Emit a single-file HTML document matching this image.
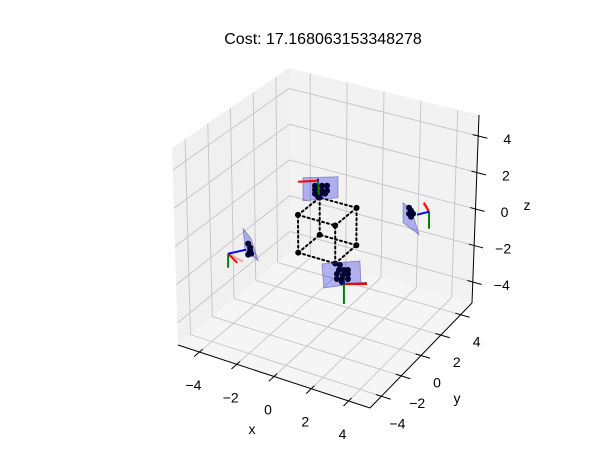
<!DOCTYPE html>
<html><head><meta charset="utf-8"><style>
html,body{margin:0;padding:0;background:#fff;}
svg{display:block;font-family:"Liberation Sans","DejaVu Sans",sans-serif;}
</style></head><body>
<svg id="chart" width="594" height="455" viewBox="0 0 594 455" xmlns="http://www.w3.org/2000/svg">
<rect width="594" height="455" fill="#fff"/>
<text x="323" y="44" font-size="16" text-anchor="middle" fill="#000">Cost: 17.168063153348278</text>
<g id="panes"></g>
<g id="grid"></g>
<g id="axes"></g>
<g id="cube"></g>
<g id="cams"></g>
<text x="252" y="434" font-size="14" text-anchor="middle">x</text>
<text x="457" y="403" font-size="14" text-anchor="middle">y</text>
<text x="527" y="210" font-size="14" text-anchor="middle">z</text>
</svg>
<script>
const xTicks = [-4, -2, 0, 2, 4];
const yTicks = [-4, -2, 0, 2, 4];
const zTicks = [-4, -2, 0, 2, 4];
const cubeX = [-1, 1, 1, -1, -1, 1, 1, -1];
const cubeY = [-1, -1, 1, 1, -1, -1, 1, 1];
const cubeZ = [-1, -1, -1, -1, 1, 1, 1, 1];
const camNames = ['top', 'bottom', 'left', 'right'];
const camX = [-0.5, 0.9, -2.77, 3.3];
const camY = [0, 0, -4.4, 3.9];
const camZ = [2.5, -2.6, 0, 0];

const L = 5.15;
const NS = 'http://www.w3.org/2000/svg';
const CORN = {
 '000':[178,345],'001':[172,148],'100':[370,408],'101':[369,203],
 '110':[472,303],'111':[479,115],'010':[290,252],'011':[289,68]
};
function P(x,y,z){
  const u=(x+L)/(2*L), v=(y+L)/(2*L), w=(z+L)/(2*L);
  let sx=0, sy=0;
  for(const i of [0,1])for(const j of [0,1])for(const k of [0,1]){
    const wt=(i?u:1-u)*(j?v:1-v)*(k?w:1-w);
    const c=CORN[''+i+j+k]; sx+=wt*c[0]; sy+=wt*c[1];
  }
  return [sx,sy];
}
function mk(tag, attrs, parent){
  const e=document.createElementNS(NS,tag);
  for(const k in attrs) e.setAttribute(k, attrs[k]);
  parent.appendChild(e); return e;
}
function line(a,b,stroke,w,parent,name,extra){
  const e=mk('line',Object.assign({x1:a[0],y1:a[1],x2:b[0],y2:b[1],stroke:stroke,'stroke-width':w},extra||{}),parent);
  
  
  return e;
}
function poly(pts,fill,parent,name,extra){
  const e=mk('polygon',Object.assign({points:pts.map(p=>p.join(',')).join(' '),fill:fill},extra||{}),parent);
  
  
  return e;
}
const M=L;
const panes=document.getElementById('panes');
poly([P(-M,-M,-M),P(M,-M,-M),P(M,M,-M),P(-M,M,-M)],'#f5f5f5',panes,'floor-pane');
poly([P(-M,-M,-M),P(-M,M,-M),P(-M,M,M),P(-M,-M,M)],'#f0f0f0',panes,'left-pane');
poly([P(-M,M,-M),P(M,M,-M),P(M,M,M),P(-M,M,M)],'#f2f2f2',panes,'back-pane');

const grid=document.getElementById('grid');
const gc='#c4c4c4', gw=0.9;
xTicks.forEach(t=>{
  line(P(t,-M,-M),P(t,M,-M),gc,gw,grid,'floor-gridline-x');
  line(P(t,M,-M),P(t,M,M),gc,gw,grid,'back-gridline-x');
});
yTicks.forEach(t=>{
  line(P(-M,t,-M),P(M,t,-M),gc,gw,grid,'floor-gridline-y');
  line(P(-M,t,-M),P(-M,t,M),gc,gw,grid,'left-gridline-y');
});
zTicks.forEach(t=>{
  line(P(-M,-M,t),P(-M,M,t),gc,gw,grid,'left-gridline-z');
  line(P(-M,M,t),P(M,M,t),gc,gw,grid,'back-gridline-z');
});

const axes=document.getElementById('axes');
line(P(-M,-M,-M),P(M,-M,-M),'#000',1,axes,'x-axis-line');
line(P(M,-M,-M),P(M,M,-M),'#000',1,axes,'y-axis-line');
line(P(M,M,-M),P(M,M,M),'#000',1,axes,'z-axis-line');
function txt(x,y,s,parent,name){
  const e=mk('text',{x:x,y:y,'font-size':14,'text-anchor':'middle'},parent);
  e.textContent=s;
  
  
}
function lab(t){return t<0?'\u2212'+Math.abs(t):''+t;}
xTicks.forEach(t=>{
  const b=P(t,-M-0.5,-M), c=P(t,-M+0.3,-M);
  line(c,b,'#000',1,axes,'x-tick-mark');
  const p=P(t,-M,-M);
  txt(p[0]-6,p[1]+38,lab(t),axes,'x-tick-label');
});
yTicks.forEach(t=>{
  const b=P(M+0.5,t,-M), c=P(M-0.3,t,-M);
  line(c,b,'#000',1,axes,'y-tick-mark');
  const p=P(M,t,-M);
  txt(p[0]+16,p[1]+32,lab(t),axes,'y-tick-label');
});
zTicks.forEach(t=>{
  const b=P(M+0.5,M,t), c=P(M-0.3,M,t);
  line(c,b,'#000',1,axes,'z-tick-mark');
  const p=P(M,M,t);
  txt(p[0]+29,p[1]+8,lab(t),axes,'z-tick-label');
});

const cube=document.getElementById('cube');
for(let i=0;i<8;i++)for(let j=i+1;j<8;j++){
  const d=(cubeX[i]!==cubeX[j])+(cubeY[i]!==cubeY[j])+(cubeZ[i]!==cubeZ[j]);
  if(d===1){
    line(P(cubeX[i],cubeY[i],cubeZ[i]),P(cubeX[j],cubeY[j],cubeZ[j]),'#000',2,cube,'cube-edge',{'stroke-dasharray':'2 3','stroke-linecap':'round'});
  }
}
for(let i=0;i<8;i++){
  const p=P(cubeX[i],cubeY[i],cubeZ[i]);
  const c=mk('circle',{cx:p[0],cy:p[1],r:3,fill:'#000'},cube);
  
  
}

const GEOM = {
 top:{quad:[[-15,-3],[20,-4],[20,17],[-15,20]],
      dots:[[-3,5],[4,5],[9,5],[-3,9],[4,10],[9,10],[-3,13],[2,13],[7,13],[0,16]],
      red:[-20,1],green:[1,14],blue:[0,-2],ghost:null},
 bottom:{quad:[[-22,-20],[16,-23],[17,-1],[-20,4]],
      dots:[[-4,-19],[-5,-14],[0,-14],[4,-14],[-7,-10],[-1,-9],[4,-10],[-7,-5],[-2,-5],[4,-5],[-2,-2]],
      red:[23,0],green:[0,20],blue:[0,-3],ghost:[20,-1,'#a04060']},
 left:{quad:[[15,-25],[23,-15],[30,7],[17,-3]],
      dots:[[20,-10],[22,-6],[22,-3],[20,1],[23,0]],
      red:[9,9],green:[0,14],blue:[18,-4],ghost:[12,8,'#f4a0a0']},
 right:{quad:[[-26,-9],[-18,-3],[-10,23],[-26,11]],
      dots:[[-20,-4],[-18,-1],[-20,2],[-18,5],[-16,2]],
      red:[-5,-9],green:[0,17],blue:[-12,3],ghost:[-9,-8,'#f4a0a0']}
};
const cams=document.getElementById('cams');
camNames.forEach((nm,i)=>{
  const c=P(camX[i],camY[i],camZ[i]);
  const g=GEOM[nm];
  const grp=mk('g',{},cams);
  
  
  poly(g.quad.map(q=>[c[0]+q[0],c[1]+q[1]]),'rgba(0,0,230,0.28)',grp,'image-plane',{stroke:'rgba(60,60,160,0.5)','stroke-width':0.8});
  g.dots.forEach(d=>{
    const e=mk('circle',{cx:c[0]+d[0],cy:c[1]+d[1],r:3,fill:'#000033'},grp);
    
    
  });
  if(g.ghost) line(c,[c[0]+g.ghost[0]+3,c[1]+g.ghost[1]],g.ghost[2],2,grp,'camera-x-axis-ghost');
  line(c,[c[0]+g.red[0],c[1]+g.red[1]],'#ff0000',2,grp,'camera-x-axis');
  line(c,[c[0]+g.green[0],c[1]+g.green[1]],'#008000',2,grp,'camera-y-axis');
  line(c,[c[0]+g.blue[0],c[1]+g.blue[1]],'#0000ff',2,grp,'camera-z-axis');
});
</script>
</body></html>
